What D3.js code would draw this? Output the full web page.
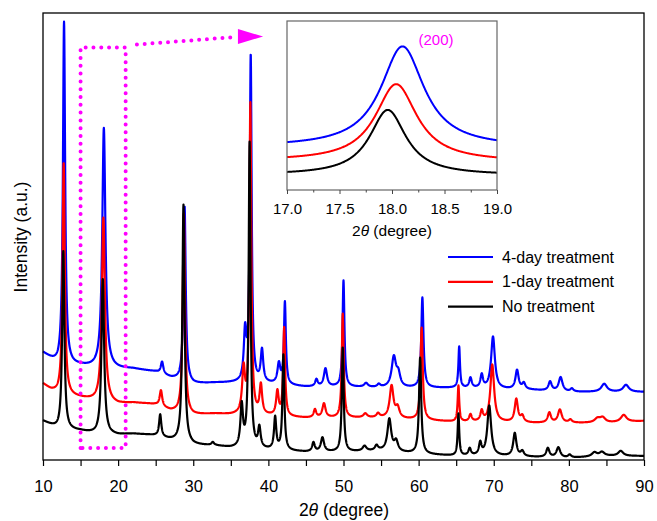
<!DOCTYPE html>
<html>
<head>
<meta charset="utf-8">
<script src="https://cdn.jsdelivr.net/npm/d3@7"></script>
<style>
  body { margin: 0; background: #fff; }
  text { font-family: "Liberation Sans", Arial, sans-serif; fill: #000; }
</style>
</head>
<body>
<div id="chart"></div>
<script>
(function() {

// 2theta grid (degree) where the background level was read
var bgAngles = [10, 11, 12, 15, 17, 20, 22, 24, 25, 27, 30, 33, 35, 40, 45, 50, 55, 60, 65, 70, 75, 80, 85, 90];
// background level of each pattern (a.u.)
var blackBg = [39, 35, 31, 29, 26, 25, 26, 25, 24, 20, 15, 14, 12, 10, 8, 8, 9, 6, 4, 4, 3, 2, 4, 4];
var redBg   = [76, 70, 66, 62, 59, 56, 57, 56, 55, 49, 45, 46, 45, 44, 42, 42, 42, 40, 38, 38, 37, 37, 37, 39];
var blueBg  = [107, 101, 95, 94, 92, 91, 91, 89, 88, 82, 76, 77, 77, 76, 73, 73, 72, 72, 72, 71, 70, 68, 68, 68];

// peaks: [2theta, height above background, fwhm]
var blackPeaks = [
    [12.7, 178, 0.35], [17.96, 155, 0.42], [25.6, 22, 0.35], [28.7, 238, 0.35], [32.6, 3, 0.4],
    [36.45, 41, 0.4], [37.5, 305, 0.3], [38.8, 20, 0.4], [40.9, 32, 0.35], [42.0, 95, 0.3],
    [46.0, 9, 0.4], [47.2, 14, 0.5], [49.9, 104, 0.3], [52.8, 5, 0.6], [54.4, 5, 0.5],
    [56.1, 32, 0.6], [57.0, 10, 0.6], [60.2, 96, 0.35], [65.3, 42, 0.25], [66.8, 7, 0.4],
    [68.2, 12, 0.4], [69.4, 50, 0.6], [72.8, 23, 0.5], [73.8, 5, 0.5], [77.2, 9, 0.5],
    [78.6, 10, 0.6], [80.1, 3, 0.5], [83.4, 4, 0.8], [84.4, 4, 0.8], [86.9, 5, 0.8]
];
var redPeaks = [
    [12.75, 232, 0.35], [18.04, 184, 0.48], [25.7, 16, 0.4], [28.75, 200, 0.35],
    [36.7, 44, 0.45], [37.6, 310, 0.3], [39.0, 29, 0.4], [41.2, 24, 0.4], [42.1, 88, 0.3],
    [46.2, 8, 0.4], [47.4, 14, 0.5], [49.9, 104, 0.3], [52.9, 4, 0.6], [54.6, 4, 0.5],
    [56.4, 32, 0.6], [57.2, 10, 0.6], [60.4, 92, 0.35], [65.3, 36, 0.25], [66.9, 7, 0.4],
    [68.4, 10, 0.4], [69.8, 57, 0.6], [73.0, 23, 0.5], [73.8, 6, 0.5], [77.4, 10, 0.5],
    [78.8, 13, 0.6], [80.2, 3, 0.5], [83.8, 4, 0.9], [84.5, 5, 0.9], [87.3, 7, 0.9]
];
var bluePeaks = [
    [12.8, 343, 0.35], [18.1, 240, 0.5], [25.85, 12, 0.4], [28.85, 175, 0.35],
    [36.9, 48, 0.4], [37.65, 326, 0.3], [39.15, 32, 0.4], [41.4, 20, 0.45], [42.2, 82, 0.3],
    [46.4, 7, 0.4], [47.6, 18, 0.5], [50.0, 106, 0.3], [53.0, 4, 0.6], [54.7, 3, 0.5],
    [56.7, 30, 0.7], [57.3, 12, 0.6], [60.5, 90, 0.35], [65.4, 41, 0.25], [66.9, 10, 0.4],
    [68.4, 13, 0.4], [69.9, 52, 0.6], [73.1, 19, 0.5], [74.0, 6, 0.5], [77.5, 9, 0.5],
    [78.9, 14, 0.6], [80.4, 3, 0.5], [84.7, 8, 0.9], [87.6, 7, 0.9]
];

var seriesNames = ['4-day treatment', '1-day treatment', 'No treatment'];
var seriesColors = ['#0000ff', '#ff0000', '#000000'];

var xTicks = [10, 20, 30, 40, 50, 60, 70, 80, 90];
var insetTicks = [17.0, 17.5, 18.0, 18.5, 19.0];

var width = 657, height = 521;
var font = '"Liberation Sans", Arial, sans-serif';

var svg = d3.select('#chart')
    .append('svg')
    .attr('width', width)
    .attr('height', height);

//main scales
var x = d3.scaleLinear().domain([10, 90]).range([43, 644]);
var y = d3.scaleLinear().domain([0, 447]).range([460, 13]);

//build a pattern from its background and peak list
function pattern(bg, peaks, from, to, step) {
    var bgScale = d3.scaleLinear().domain(bgAngles).range(bg);
    return d3.range(from, to + step / 2, step).map(function(t) {
        var v = bgScale(t);
        peaks.forEach(function(p) {
            var u = 2 * (t - p[0]) / p[2];
            v += p[1] / (1 + u * u);
        });
        return [t, v];
    });
}

var allBg = [blueBg, redBg, blackBg];
var allPeaks = [bluePeaks, redPeaks, blackPeaks];

//main traces, blue first so black ends on top
var line = d3.line().x(d => x(d[0])).y(d => y(d[1]));
allBg.forEach(function(bg, i) {
    svg.append('path')
        .attr('d', line(pattern(bg, allPeaks[i], 10, 90, 0.02)))
        .attr('fill', 'none')
        .attr('stroke', seriesColors[i])
        .attr('stroke-width', 2.2)
        .attr('stroke-linejoin', 'round');
});

//frame
svg.append('rect')
    .attr('x', 43).attr('y', 13)
    .attr('width', 601).attr('height', 447)
    .attr('fill', 'none')
    .attr('stroke', '#000')
    .attr('stroke-width', 1.3);

//x axis
var xAxis = svg.append('g')
    .attr('transform', 'translate(0,460)')
    .call(d3.axisBottom(x).tickValues(d3.range(10, 91, 5)).tickSize(6).tickSizeOuter(0)
        .tickFormat(d => xTicks.indexOf(d) >= 0 ? d : ''));
xAxis.select('.domain').remove();
xAxis.selectAll('line').attr('stroke-width', 1.2);
xAxis.selectAll('text')
    .attr('dy', null).attr('y', 32)
    .style('font-size', '16.5px')
    .style('font-family', font);

svg.append('text')
    .attr('x', 344).attr('y', 516)
    .attr('text-anchor', 'middle')
    .style('font-size', '17.5px')
    .html('2<tspan font-style="italic">θ</tspan> (degree)');

svg.append('text')
    .attr('transform', 'translate(27,237) rotate(-90)')
    .attr('text-anchor', 'middle')
    .style('font-size', '17.5px')
    .text('Intensity (a.u.)');

//magenta dotted box around the (200) peak and arrow to the inset
var magenta = '#ff00ff';
svg.append('path')
    .attr('d', 'M' + x(15) + ',' + y(12) + 'V' + y(412.5) + 'H' + x(21) + 'V' + y(12) + 'Z')
    .attr('fill', 'none')
    .attr('stroke', magenta)
    .attr('stroke-width', 4)
    .attr('stroke-linecap', 'round')
    .attr('stroke-dasharray', '0,7.8');

svg.append('line')
    .attr('x1', x(22.5)).attr('y1', y(415.5))
    .attr('x2', x(35.7)).attr('y2', y(423))
    .attr('stroke', magenta)
    .attr('stroke-width', 4)
    .attr('stroke-linecap', 'round')
    .attr('stroke-dasharray', '0,7.8');

svg.append('path')
    .attr('d', 'M' + x(35.95) + ',' + (y(423.5) - 7.5) + 'L' + x(39.3) + ',' + y(423.5) +
        'L' + x(35.95) + ',' + (y(423.5) + 7.5) + 'Z')
    .attr('fill', magenta);

//legend
var legend = svg.append('g');
seriesNames.forEach(function(name, i) {
    var ly = 257 + i * 24.8;
    legend.append('line')
        .attr('x1', 448).attr('x2', 493)
        .attr('y1', ly).attr('y2', ly)
        .attr('stroke', seriesColors[i])
        .attr('stroke-width', 2.2);
    legend.append('text')
        .attr('x', 502).attr('y', ly + 5.5)
        .style('font-size', '16px')
        .text(name);
});

//inset
var ix = d3.scaleLinear().domain([17, 19]).range([287, 497]);
var iy = d3.scaleLinear().domain([-9.5, 392.5]).range([190, 21]);

svg.append('rect')
    .attr('x', 287).attr('y', 21)
    .attr('width', 210).attr('height', 169)
    .attr('fill', '#fff');

svg.append('clipPath').attr('id', 'inset-clip')
    .append('rect')
    .attr('x', 287).attr('y', 21)
    .attr('width', 210).attr('height', 169);

var iline = d3.line().x(d => ix(d[0])).y(d => iy(d[1]));
allBg.forEach(function(bg, i) {
    svg.append('path')
        .attr('clip-path', 'url(#inset-clip)')
        .attr('d', iline(pattern(bg, allPeaks[i], 17, 19, 0.005)))
        .attr('fill', 'none')
        .attr('stroke', seriesColors[i])
        .attr('stroke-width', 2);
});

svg.append('rect')
    .attr('x', 287).attr('y', 21)
    .attr('width', 210).attr('height', 169)
    .attr('fill', 'none')
    .attr('stroke', '#666')
    .attr('stroke-width', 1.2);

var iAxis = svg.append('g')
    .attr('transform', 'translate(0,190)')
    .call(d3.axisBottom(ix).tickValues(d3.range(17, 19.01, 0.25)).tickSize(4).tickSizeOuter(0)
        .tickFormat(d => insetTicks.indexOf(d) >= 0 ? d3.format('.1f')(d) : ''));
iAxis.select('.domain').remove();
iAxis.selectAll('line').attr('stroke', '#444');
iAxis.selectAll('.tick')
    .filter(d => insetTicks.indexOf(d) < 0)
    .select('line').attr('y2', 2.5);
iAxis.selectAll('text')
    .attr('dy', null).attr('y', 23.5)
    .style('font-size', '15px')
    .style('font-family', font);

svg.append('text')
    .attr('x', 392).attr('y', 235.5)
    .attr('text-anchor', 'middle')
    .style('font-size', '15.5px')
    .html('2<tspan font-style="italic">θ</tspan> (degree)');

svg.append('text')
    .attr('x', 436).attr('y', 44.5)
    .attr('text-anchor', 'middle')
    .style('font-size', '15px')
    .style('fill', magenta)
    .text('(200)');

})();
</script>
</body>
</html>
